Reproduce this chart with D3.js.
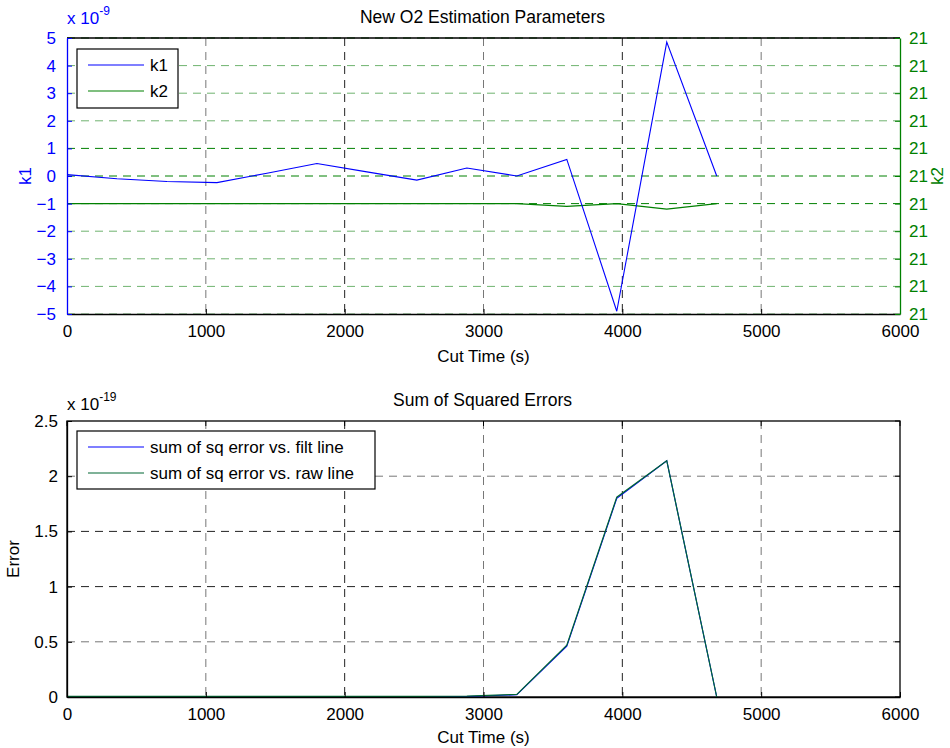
<!DOCTYPE html>
<html>
<head>
<meta charset="utf-8">
<script src="https://cdn.jsdelivr.net/npm/d3@7"></script>
<style>
  body { margin: 0; background: #fff; }
  svg text { font-family: "Liberation Sans", Arial, sans-serif; }
</style>
</head>
<body>
<div id="chart"></div>
<script>
// data
const cutTime = [0, 360, 720, 1080, 1440, 1800, 2160, 2520, 2880, 3240, 3600, 3960, 4320, 4680];
// k1 in units of 1e-9
const k1 = [0.05, -0.1, -0.2, -0.24, 0.1, 0.45, 0.15, -0.15, 0.29, 0.0, 0.6, -4.9, 4.85, 0.0];
// k2 sits at 21 with tiny variations
const k2 = [20.9999999, 20.9999999, 20.9999999, 20.9999999, 20.9999999, 20.9999999, 20.9999999,
            20.9999999, 20.9999999, 20.99999990, 20.99999989, 20.99999990, 20.99999988, 20.99999990];
// sum of squared errors in units of 1e-19
const sseFilt = [0.005, 0.005, 0.005, 0.005, 0.005, 0.005, 0.005, 0.005, 0.005, 0.02, 0.46, 1.8, 2.14, 0];
const sseRaw  = [0.005, 0.005, 0.005, 0.005, 0.005, 0.005, 0.005, 0.005, 0.008, 0.024, 0.47, 1.81, 2.14, 0];

const xTicks = [0, 1000, 2000, 3000, 4000, 5000, 6000];
const k1Ticks = [-5, -4, -3, -2, -1, 0, 1, 2, 3, 4, 5];
const errTicks = [0, 0.5, 1, 1.5, 2, 2.5];

const W = 950, H = 748;
const svg = d3.select("#chart").append("svg").attr("width", W).attr("height", H);

const left = 67, right = 900;
const FS = 17;
const blue = "#0000ff", green = "#008000";
const DASH = "8,6";

function titleText(y, txt) {
  svg.append("text").attr("x", (left + right) / 2 - 1).attr("y", y)
    .attr("text-anchor", "middle").attr("font-size", 17.5).text(txt);
}

function exponent(x, y, color, exp) {
  const t = svg.append("text").attr("x", x).attr("y", y).attr("fill", color).attr("font-size", FS);
  t.append("tspan").text("x 10");
  t.append("tspan").attr("dy", -9).attr("font-size", 12).text(exp);
}

function styleAxis(g, color) {
  g.select(".domain").attr("stroke", color).attr("stroke-width", 1.3);
  g.selectAll(".tick line").attr("stroke", color);
  g.selectAll(".tick text").attr("fill", color).attr("font-size", FS)
    .attr("font-family", "Liberation Sans, Arial, sans-serif");
}

function legend(x, y, w, h, items) {
  const g = svg.append("g").attr("transform", `translate(${x},${y})`);
  g.append("rect").attr("width", w).attr("height", h).attr("fill", "#fff")
    .attr("stroke", "#000").attr("stroke-width", 1.2);
  items.forEach((it, i) => {
    const yy = 16 + i * 26;
    g.append("line").attr("x1", 11).attr("x2", 67).attr("y1", yy).attr("y2", yy)
      .attr("stroke", it.color).attr("stroke-width", 1.2);
    g.append("text").attr("x", 73).attr("y", yy + 6).attr("font-size", FS).text(it.label);
  });
}

// ---------- top panel ----------
const t0 = 38, t1 = 314;
const x1 = d3.scaleLinear().domain([0, 6000]).range([left, right]);
const yk1 = d3.scaleLinear().domain([-5, 5]).range([t1, t0]);
const yk2 = d3.scaleLinear().domain([20.9999995, 21.0000005]).range([t1, t0]);

titleText(23, "New O2 Estimation Parameters");

// vertical grid
svg.append("g").selectAll("line").data(xTicks.slice(1, -1)).enter().append("line")
  .attr("x1", d => x1(d)).attr("x2", d => x1(d)).attr("y1", t0).attr("y2", t1)
  .attr("stroke", (d, i) => i % 2 === 0 ? "#777" : "#222").attr("stroke-dasharray", DASH);
// horizontal grid (green, from k2 axis)
svg.append("g").selectAll("line").data(yk2.ticks(10)).enter().append("line")
  .attr("x1", left).attr("x2", right).attr("y1", d => yk2(d)).attr("y2", d => yk2(d))
  .attr("stroke", (d, i) => (i >= 4 && i <= 6) || i === 10 ? green : "#6fb36f")
  .attr("stroke-dasharray", DASH);

// frame top
svg.append("line").attr("x1", left).attr("x2", right).attr("y1", t0).attr("y2", t0)
  .attr("stroke", "#000").attr("stroke-width", 1.3);

svg.append("path").datum(k2).attr("fill", "none").attr("stroke", green).attr("stroke-width", 1.1)
  .attr("d", d3.line().x((d, i) => x1(cutTime[i])).y(d => yk2(d)));
svg.append("path").datum(k1).attr("fill", "none").attr("stroke", blue).attr("stroke-width", 1.1)
  .attr("d", d3.line().x((d, i) => x1(cutTime[i])).y(d => yk1(d)));

const gxTop = svg.append("g").attr("transform", `translate(0,${t1})`)
  .call(d3.axisBottom(x1).tickValues(xTicks).tickSizeInner(-5).tickSizeOuter(0).tickPadding(11).tickFormat(d3.format("d")));
styleAxis(gxTop, "#000");

const gyL = svg.append("g").attr("transform", `translate(${left},0)`)
  .call(d3.axisLeft(yk1).tickValues(k1Ticks).tickSizeInner(-5).tickSizeOuter(0).tickPadding(11).tickFormat(d3.format("d")));
styleAxis(gyL, blue);

const gyR = svg.append("g").attr("transform", `translate(${right},0)`)
  .call(d3.axisRight(yk2).ticks(10).tickSizeInner(-5).tickSizeOuter(0).tickPadding(9).tickFormat(d3.format(".0f")));
styleAxis(gyR, green);

exponent(67, 24, blue, "-9");
svg.append("text").attr("transform", `translate(31,${(t0 + t1) / 2}) rotate(-90)`)
  .attr("text-anchor", "middle").attr("fill", blue).attr("font-size", FS).text("k1");
svg.append("text").attr("transform", `translate(943,${(t0 + t1) / 2}) rotate(-90)`)
  .attr("text-anchor", "middle").attr("fill", green).attr("font-size", FS).text("k2");
svg.append("text").attr("x", (left + right) / 2).attr("y", 362).attr("text-anchor", "middle")
  .attr("font-size", FS).text("Cut Time (s)");

legend(77, 49, 101, 59, [{ label: "k1", color: blue }, { label: "k2", color: green }]);

// ---------- bottom panel ----------
const b0 = 421, b1 = 697;
const yErr = d3.scaleLinear().domain([0, 2.5]).range([b1, b0]);

titleText(406, "Sum of Squared Errors");

svg.append("g").selectAll("line").data(xTicks.slice(1, -1)).enter().append("line")
  .attr("x1", d => x1(d)).attr("x2", d => x1(d)).attr("y1", b0).attr("y2", b1)
  .attr("stroke", (d, i) => i % 2 === 0 ? "#777" : "#222").attr("stroke-dasharray", DASH);
svg.append("g").selectAll("line").data(errTicks.slice(1, -1)).enter().append("line")
  .attr("x1", left).attr("x2", right).attr("y1", d => yErr(d)).attr("y2", d => yErr(d))
  .attr("stroke", (d, i) => i === 0 || i === 3 ? "#777" : "#222").attr("stroke-dasharray", DASH);

svg.append("rect").attr("x", left).attr("y", b0).attr("width", right - left).attr("height", b1 - b0)
  .attr("fill", "none").attr("stroke", "#000").attr("stroke-width", 1.3);

const lineErr = d3.line().x((d, i) => x1(cutTime[i])).y(d => yErr(d));
svg.append("path").datum(sseFilt).attr("fill", "none").attr("stroke", blue).attr("stroke-width", 1.1).attr("d", lineErr);
svg.append("path").datum(sseRaw).attr("fill", "none").attr("stroke", "#006633").attr("stroke-width", 1.2).attr("d", lineErr);

const gxBot = svg.append("g").attr("transform", `translate(0,${b1})`)
  .call(d3.axisBottom(x1).tickValues(xTicks).tickSizeInner(-5).tickSizeOuter(0).tickPadding(11).tickFormat(d3.format("d")));
styleAxis(gxBot, "#000");
const gyB = svg.append("g").attr("transform", `translate(${left},0)`)
  .call(d3.axisLeft(yErr).tickValues(errTicks).tickSizeInner(-5).tickSizeOuter(0).tickPadding(9).tickFormat(d => String(d)));
styleAxis(gyB, "#000");
svg.append("g").selectAll("line").data(errTicks).enter().append("line")
  .attr("x1", right).attr("x2", right - 5).attr("y1", d => yErr(d)).attr("y2", d => yErr(d)).attr("stroke", "#000");
svg.append("g").selectAll("line").data(xTicks).enter().append("line")
  .attr("x1", d => x1(d)).attr("x2", d => x1(d)).attr("y1", b0).attr("y2", b0 + 5).attr("stroke", "#000");

exponent(67, 410, "#000", "-19");
svg.append("text").attr("transform", `translate(19,${(b0 + b1) / 2}) rotate(-90)`)
  .attr("text-anchor", "middle").attr("font-size", FS).text("Error");
svg.append("text").attr("x", (left + right) / 2).attr("y", 743).attr("text-anchor", "middle")
  .attr("font-size", FS).text("Cut Time (s)");

legend(77, 431, 298, 58, [{ label: "sum of sq error vs. filt line", color: blue },
                          { label: "sum of sq error vs. raw line", color: "#006633" }]);
</script>
</body>
</html>
